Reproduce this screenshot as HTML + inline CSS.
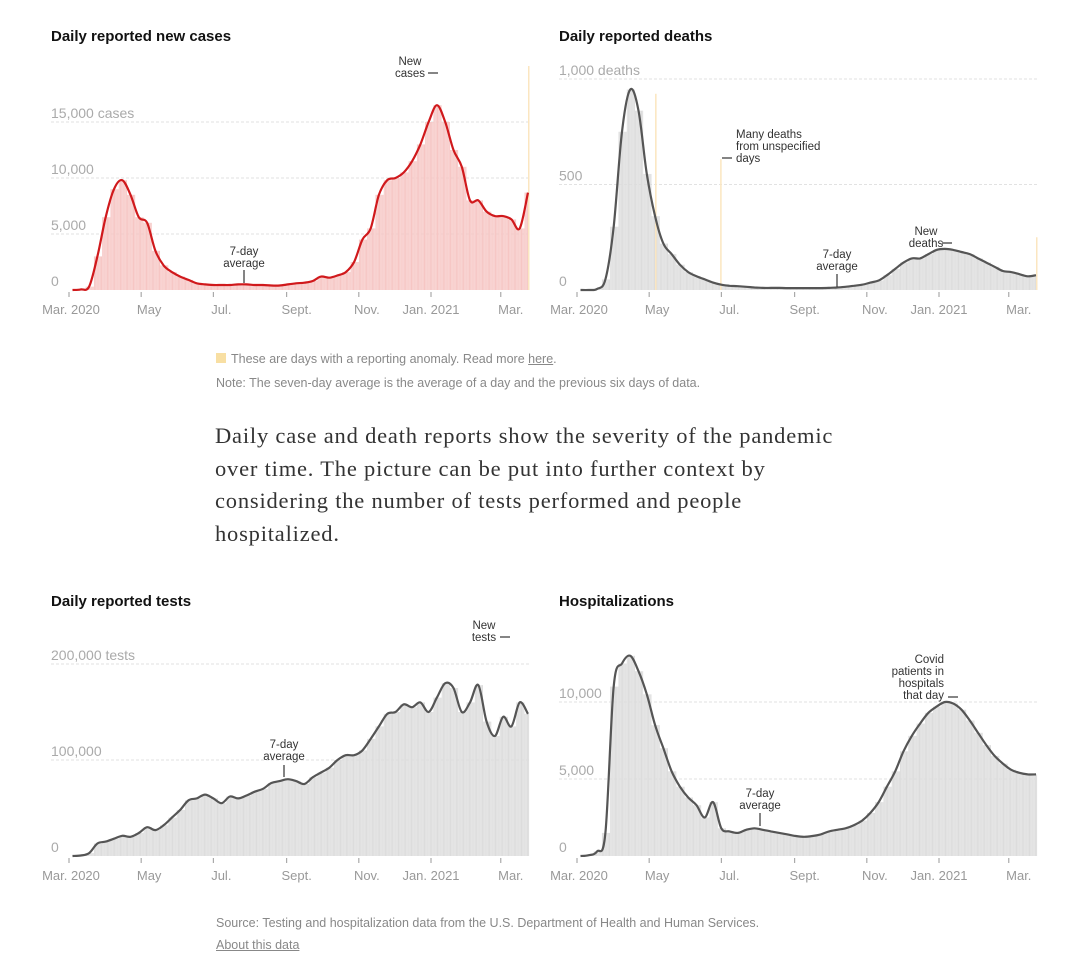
<!DOCTYPE html>
<html><head><meta charset="utf-8">
<style>
body{margin:0;background:#fff;width:1083px;height:962px;overflow:hidden;font-family:"Liberation Sans",sans-serif;position:relative}
.t{position:absolute;font-weight:bold;font-size:15px;color:#121212}
.note{position:absolute;left:216px;font-size:12.5px;color:#888}
.para{position:absolute;left:215px;top:420px;width:700px;font-family:"Liberation Serif",serif;font-size:22.5px;line-height:32.5px;color:#333;white-space:nowrap;letter-spacing:0.8px}
svg{position:absolute;left:0;top:0}
</style></head><body>
<div class="t" style="left:51px;top:28px">Daily reported new cases</div>
<div class="t" style="left:559px;top:28px">Daily reported deaths</div>
<div class="t" style="left:51px;top:593px">Daily reported tests</div>
<div class="t" style="left:559px;top:593px">Hospitalizations</div>
<div class="note" style="top:352px"><span style="display:inline-block;width:10px;height:10px;background:#f8dfa3;margin-right:5px"></span>These are days with a reporting anomaly. Read more <u>here</u>.</div>
<div class="note" style="top:376px">Note: The seven-day average is the average of a day and the previous six days of data.</div>
<div class="para">Daily case and death reports show the severity of the pandemic<br>over time. The picture can be put into further context by<br>considering the number of tests performed and people<br>hospitalized.</div>
<div class="note" style="top:916px">Source: Testing and hospitalization data from the U.S. Department of Health and Human Services.</div>
<div class="note" style="top:938px"><u>About this data</u></div>
<svg id="s" width="1083" height="962"></svg>
<script>
const monthLabels=["Mar. 2020","May","Jul.","Sept.","Nov.","Jan. 2021","Mar."];
const monthDays=[0,61,122,184,245,306,365];
const cases=[0,50,300,3000,6500,9000,9800,8500,6500,6000,3500,2200,1600,1200,900,600,500,450,450,450,500,500,450,450,400,400,500,600,650,800,1200,1100,1300,1600,2500,4500,5500,8500,9800,10000,10500,11500,13000,15000,16500,15000,12500,11000,8000,8000,7000,6600,6600,6300,5500,8700];
const deaths=[0,0,5,50,300,750,950,850,550,350,220,170,120,85,65,50,35,25,20,18,15,12,10,10,10,9,9,9,9,9,10,12,15,20,25,35,45,70,100,130,150,150,170,190,195,190,180,170,150,130,110,90,85,75,65,70];
const tests=[0,500,3000,13000,15000,18000,21000,20000,24000,30000,27000,32000,40000,48000,58000,60000,64000,60000,55000,62000,60000,63000,67000,70000,76000,78000,80000,78000,75000,82000,87000,92000,100000,105000,105000,110000,122000,135000,148000,150000,158000,155000,160000,150000,165000,180000,175000,150000,160000,178000,140000,125000,145000,135000,160000,148000];
const hosp=[0,50,300,1500,11000,12500,13000,12000,10500,8500,7000,5500,4500,3800,3300,2500,3500,1800,1600,1500,1700,1800,1700,1600,1500,1400,1300,1250,1300,1400,1600,1700,1800,2000,2300,2800,3500,4500,5500,6800,7800,8600,9300,9700,10000,9900,9500,8800,8000,7200,6500,6000,5600,5400,5300,5300];
const casesTicks=[0,5000,10000,15000],casesTickLabels=["0","5,000","10,000","15,000 cases"];
const deathTicks=[0,500,1000],deathTickLabels=["0","500","1,000 deaths"];
const testTicks=[0,100000,200000],testTickLabels=["0","100,000","200,000 tests"];
const hospTicks=[0,5000,10000],hospTickLabels=["0","5,000","10,000"];
const NS="http://www.w3.org/2000/svg",svg=document.getElementById('s');
function mk(t,a,p){const e=document.createElementNS(NS,t);for(const k in a)e.setAttribute(k,a[k]);(p||svg).appendChild(e);return e;}
function smooth(p){let d='M'+p[0][0].toFixed(1)+','+p[0][1].toFixed(1);
  for(let i=0;i<p.length-1;i++){const p0=p[Math.max(0,i-1)],p1=p[i],p2=p[i+1],p3=p[Math.min(p.length-1,i+2)];
    const c1=[p1[0]+(p2[0]-p0[0])/6,p1[1]+(p2[1]-p0[1])/6],c2=[p2[0]-(p3[0]-p1[0])/6,p2[1]-(p3[1]-p1[1])/6];
    d+=' C'+c1.map(v=>v.toFixed(1))+' '+c2.map(v=>v.toFixed(1))+' '+p2.map(v=>v.toFixed(1));}
  return d;}
const labOff=[2,8,8,10,8,0,10];
function chart(o){
  const g=mk('g',{});
  
  
  const x=d=>o.x0+d*1.183, y=v=>o.y0-v*o.k;
  o.ticks.forEach((t,i)=>{
    if(t>0){const l=mk('line',{x1:o.x0-18,x2:o.x0+461,y1:y(t),y2:y(t),stroke:'#e2e2e2','stroke-dasharray':'3,2'},g);
      
      }
    const tx=mk('text',{x:o.x0-18,y:y(t)-4,'font-size':14,fill:'#aaa'},g);tx.textContent=o.labels[i];
    
    
  });
  o.data.forEach((v,i)=>{for(let j=0;j<7;j++){const d=i*7+j;if(d>388)break;
    const b=mk('rect',{x:x(d)+0.1,y:y(v),width:1.0,height:Math.max(0,o.y0-y(v)),fill:o.bar},g);
    
    }});
  (o.anom||[]).forEach(a=>{const r=mk('rect',{x:x(a[0]),y:y(a[1]),width:1.5,height:o.y0-y(a[1]),fill:'#fbe6c0'},g);
    
    });
  const pts=o.data.map((v,i)=>[x(Math.min(i*7+3,388)),y(v)]);
  const pl=mk('path',{d:smooth(pts),fill:'none',stroke:o.line,'stroke-width':2.2,'stroke-linejoin':'round'},g);
  
  
  monthDays.forEach((d,i)=>{mk('line',{x1:x(d),x2:x(d),y1:o.y0+2,y2:o.y0+7,stroke:'#999'},g);
    const tx=mk('text',{x:x(d)+labOff[i],y:o.y0+24,'font-size':13,fill:'#999','text-anchor':'middle'},g);tx.textContent=monthLabels[i];
    
    });
  (o.ann||[]).forEach(a=>{a.lines.forEach((s,i)=>{const tx=mk('text',{x:a.x,y:a.y+i*12,'font-size':11.5,fill:'#333','text-anchor':a.anchor||'middle'},g);tx.textContent=s;
    
    });
    if(a.l)mk('line',{x1:a.l[0],y1:a.l[1],x2:a.l[2],y2:a.l[3],stroke:'#333','stroke-width':1.2},g);});
}
chart({name:'cases-chart',x0:69,y0:290,k:0.0112,data:cases,ticks:casesTicks,labels:casesTickLabels,bar:'#f6c6c4',line:'#d0191c',anom:[[388,20000]],
 ann:[{x:244,y:255,lines:['7-day','average'],l:[244,270,244,283]},{x:410,y:65,lines:['New','cases'],l:[428,73,438,73]}]});
chart({name:'deaths-chart',x0:577,y0:290,k:0.211,data:deaths,ticks:deathTicks,labels:deathTickLabels,bar:'#dcdcdc',line:'#555',anom:[[66,930],[121,620],[388,250]],
 ann:[{x:736,y:138,anchor:'start',lines:['Many deaths','from unspecified','days'],l:[722,158,732,158]},{x:837,y:258,lines:['7-day','average'],l:[837,274,837,287]},{x:926,y:235,lines:['New','deaths'],l:[942,243,952,243]}]});
chart({name:'tests-chart',x0:69,y0:856,k:0.00096,data:tests,ticks:testTicks,labels:testTickLabels,bar:'#dcdcdc',line:'#555',
 ann:[{x:284,y:748,lines:['7-day','average'],l:[284,765,284,777]},{x:484,y:629,lines:['New','tests'],l:[500,637,510,637]}]});
chart({name:'hosp-chart',x0:577,y0:856,k:0.0154,data:hosp,ticks:hospTicks,labels:hospTickLabels,bar:'#dcdcdc',line:'#555',
 ann:[{x:760,y:797,lines:['7-day','average'],l:[760,813,760,826]},{x:944,y:663,anchor:'end',lines:['Covid','patients in','hospitals','that day'],l:[948,697,958,697]}]});
</script>
</body></html>
